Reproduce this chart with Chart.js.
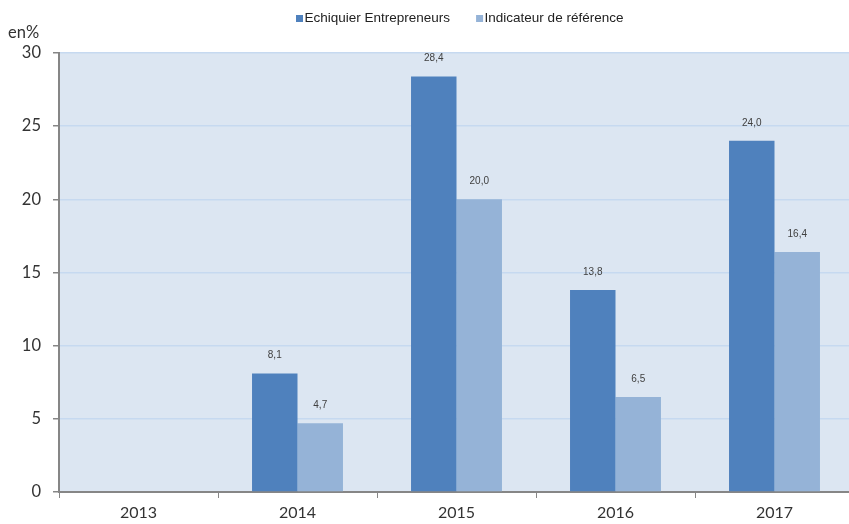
<!DOCTYPE html>
<html><head><meta charset="utf-8">
<script src="https://cdn.jsdelivr.net/npm/chart.js@4"></script>
<style>html,body{margin:0;padding:0;background:#fff;overflow:hidden;}#wrap{width:855px;height:524px;position:relative;}</style>
</head><body><div id="wrap"><canvas id="c"></canvas></div>
<script>
const categories = ['2013','2014','2015','2016','2017'];
const seriesNames = ['Echiquier Entrepreneurs','Indicateur de référence'];
const echiquier = [null, 8.1, 28.4, 13.8, 24.0];
const indicateur = [null, 4.7, 20.0, 6.5, 16.4];
const yTicks = [0,5,10,15,20,25,30];
const unitLabel = 'en%';

const bgPlugin = {
  id:'bg',
  beforeDraw(chart){
    const {ctx, chartArea:a} = chart;
    ctx.save(); ctx.fillStyle='#dce6f2';
    ctx.fillRect(a.left,a.top,a.right-a.left,a.bottom-a.top); ctx.restore();
  },
  afterDraw(chart){
    const ctx = chart.ctx;
    ctx.save();
    // data labels
    ctx.font = '10px "Liberation Sans", Arial, sans-serif';
    ctx.fillStyle = '#404040'; ctx.textAlign='center'; ctx.textBaseline='middle';
    chart.data.datasets.forEach((ds,i)=>{
      const meta = chart.getDatasetMeta(i);
      meta.data.forEach((bar,j)=>{
        const v = ds.data[j];
        if (v==null) return;
        ctx.fillText(v.toFixed(1).replace('.',','), bar.x, bar.y-18);
      });
    });
    // unit label
    ctx.font = '16.5px Lato, sans-serif'; ctx.fillStyle='#333';
    ctx.textAlign='left';
    ctx.fillText(unitLabel, 8, 33);
    // legend
    ctx.font = '13.5px "Liberation Sans", Arial, sans-serif';
    ctx.textBaseline='middle';
    let x = 296; const y = 18.5;
    chart.data.datasets.forEach((ds,i)=>{
      ctx.fillStyle = ds.backgroundColor;
      ctx.fillRect(x, y-3.5, 7, 7);
      ctx.fillStyle = '#222';
      ctx.fillText(ds.label, x+8.5, y);
      x += 8.5 + ctx.measureText(ds.label).width + 26;
    });
    ctx.restore();
  }
};

new Chart(document.getElementById('c'), {
  type:'bar',
  data:{
    labels: categories,
    datasets:[
      {label: seriesNames[0], data: echiquier, backgroundColor:'#4f81bd', barPercentage:1, categoryPercentage:0.572},
      {label: seriesNames[1], data: indicateur, backgroundColor:'#95b3d7', barPercentage:1, categoryPercentage:0.572}
    ]
  },
  options:{
    responsive:true, maintainAspectRatio:false, animation:false,
    layout:{padding:{top:53,right:1,left:0,bottom:0}},
    plugins:{legend:{display:false}, tooltip:{enabled:false}},
    scales:{
      x:{
        grid:{display:true, drawOnChartArea:false, drawTicks:true, offset:true, tickLength:6, color:'#868686', lineWidth:1},
        border:{display:true, color:'#868686', width:2},
        ticks:{font:{family:'Lato', size:16}, color:'#333', padding:5},
        afterFit(s){ s.height = 32; }
      },
      y:{
        min:0, max:30,
        afterBuildTicks(s){ s.ticks = yTicks.map(v=>({value:v})); },
        grid:{color:'#c6d9f0', lineWidth:1.5, tickColor:'#868686', tickLength:6},
        border:{display:true, color:'#868686', width:2},
        ticks:{font:{family:'Lato', size:16.5}, color:'#333', padding:12},
        afterFit(s){ s.width = 59; }
      }
    }
  },
  plugins:[bgPlugin]
});
</script></body></html>
